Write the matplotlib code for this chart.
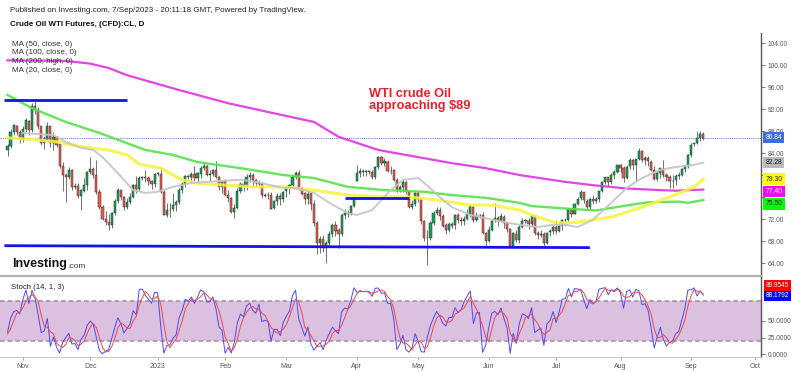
import numpy as np
import pandas as pd
import matplotlib
matplotlib.use("Agg")
import matplotlib.pyplot as plt
from matplotlib.transforms import blended_transform_factory

plt.rcParams['font.family'] = ['Liberation Sans', 'DejaVu Sans']

# ---------------- data ----------------
first_date = '2022-10-25'
last_date = '2023-09-07'

opens = [84.60, 85.30, 87.90, 89.00, 87.90, 86.60, 88.40, 89.90, 88.20, 92.60,
         91.80, 88.90, 85.80, 86.50, 88.90, 85.90, 86.90, 85.60, 81.60, 80.10,
         79.70, 80.90, 77.90, 78.10, 76.30, 77.20, 78.20, 80.60, 81.20, 80.00,
         76.90, 74.20, 72.00, 71.50, 71.00, 73.20, 75.40, 77.30, 76.10, 74.30,
         75.20, 76.10, 78.30, 77.50, 79.50, 79.60, 79.50, 78.90, 78.40, 80.30,
         80.30, 76.90, 72.80, 73.70, 73.80, 74.60, 75.10, 77.40, 78.40, 79.90,
         79.60, 80.20, 79.50, 80.30, 81.30, 81.60, 80.10, 80.20, 81.00, 79.70,
         77.90, 78.90, 76.40, 75.90, 73.40, 74.10, 77.10, 78.50, 78.10, 79.70,
         80.10, 79.10, 78.60, 78.50, 76.30, 76.50, 76.40, 74.00, 75.40, 76.30,
         75.70, 77.10, 77.70, 78.20, 79.70, 80.50, 77.60, 76.70, 75.70, 76.70,
         74.80, 71.30, 67.60, 68.40, 66.70, 67.60, 69.30, 70.90, 70.00, 69.30,
         72.80, 73.20, 73.00, 74.40, 79.00, 80.40, 80.70, 80.60, 80.70, 80.60,
         79.70, 81.50, 83.30, 82.20, 82.50, 80.80, 80.90, 79.20, 77.40, 77.90,
         78.80, 77.10, 74.30, 74.80, 76.80, 75.70, 71.70, 68.60, 68.60, 71.30,
         73.20, 73.70, 72.60, 70.90, 70.00, 71.10, 70.90, 72.80, 71.90, 71.70,
         72.00, 72.90, 74.30, 71.80, 72.70, 72.70, 69.50, 68.10, 70.10, 71.80,
         72.20, 71.70, 72.50, 71.30, 70.20, 67.10, 69.40, 68.30, 70.60, 71.80,
         71.60, 71.20, 72.50, 69.50, 69.20, 69.40, 67.70, 69.60, 69.90, 70.60,
         69.80, 70.70, 71.80, 71.80, 73.90, 73.00, 74.80, 75.80, 76.90, 75.40,
         74.20, 75.70, 75.40, 75.60, 77.10, 78.70, 79.60, 78.80, 80.10, 80.60,
         81.80, 81.40, 79.50, 81.60, 82.80, 81.90, 82.90, 84.40, 82.80, 83.20,
         82.50, 81.00, 79.40, 80.40, 81.20, 80.10, 79.60, 78.90, 79.10, 79.80,
         80.10, 81.20, 81.60, 83.60, 85.60, 85.80, 86.70, 87.50]

highs = [85.70, 88.40, 89.40, 89.20, 88.20, 89.00, 90.40, 90.10, 93.20, 93.70,
         92.40, 89.00, 87.20, 89.70, 89.00, 87.90, 87.20, 85.70, 82.40, 80.50,
         81.50, 81.20, 78.60, 78.60, 77.50, 79.50, 80.80, 83.30, 81.50, 82.70,
         77.50, 74.60, 73.50, 73.00, 73.40, 75.60, 77.60, 77.40, 76.30, 75.90,
         76.70, 78.50, 79.80, 79.90, 79.80, 80.90, 79.80, 79.10, 80.50, 80.60,
         81.50, 77.40, 74.90, 75.00, 76.70, 75.50, 77.70, 78.80, 80.00, 80.00,
         80.60, 81.70, 80.60, 81.60, 82.30, 81.80, 81.00, 81.20, 82.60, 79.90,
         79.10, 79.40, 77.30, 76.00, 74.70, 77.60, 78.70, 79.30, 80.30, 80.60,
         80.50, 79.30, 79.20, 78.80, 76.80, 77.00, 76.90, 75.50, 76.70, 76.80,
         77.20, 78.00, 78.50, 80.00, 80.80, 80.90, 77.90, 77.00, 77.30, 77.00,
         75.50, 71.70, 68.90, 69.10, 68.00, 69.90, 71.40, 71.70, 70.40, 73.10,
         73.80, 73.60, 74.60, 75.80, 81.80, 81.40, 81.20, 81.00, 80.90, 80.90,
         81.70, 83.50, 83.50, 83.10, 82.70, 81.70, 81.20, 79.50, 78.30, 79.30,
         78.90, 77.30, 75.50, 76.90, 76.90, 75.80, 71.80, 70.10, 71.70, 73.50,
         74.20, 74.30, 73.00, 71.30, 71.50, 71.50, 73.00, 73.20, 72.50, 72.60,
         73.80, 74.70, 74.50, 73.30, 73.00, 73.30, 69.70, 70.70, 72.00, 75.00,
         72.60, 73.20, 72.80, 71.50, 70.40, 69.60, 70.00, 70.90, 72.20, 72.00,
         72.20, 72.80, 72.70, 69.90, 70.00, 69.60, 69.70, 70.30, 70.90, 71.90,
         71.00, 72.00, 72.20, 74.00, 74.00, 75.00, 76.00, 77.30, 77.00, 75.60,
         75.90, 76.40, 76.00, 77.20, 78.90, 79.70, 79.70, 80.40, 81.00, 81.90,
         82.10, 81.70, 81.90, 83.20, 83.00, 83.00, 84.90, 84.60, 83.50, 83.50,
         82.70, 81.60, 80.70, 81.30, 82.80, 80.40, 80.00, 80.10, 80.30, 80.60,
         81.40, 81.80, 83.90, 85.90, 85.90, 88.10, 88.00, 87.80]

lows = [83.50, 84.90, 87.40, 87.30, 85.90, 86.10, 87.90, 87.40, 87.90, 91.20,
        88.50, 85.50, 84.80, 86.20, 85.20, 84.60, 85.20, 81.40, 77.20, 75.10,
        79.30, 77.40, 77.50, 75.80, 73.60, 77.00, 77.40, 80.20, 79.50, 76.60,
        73.80, 71.90, 70.90, 70.10, 70.50, 72.80, 74.90, 75.50, 73.70, 73.80,
        74.70, 75.80, 76.70, 77.20, 79.20, 78.70, 78.20, 77.50, 77.90, 79.90,
        76.70, 72.70, 72.50, 72.50, 73.50, 73.50, 74.70, 76.80, 77.90, 79.30,
        78.60, 78.90, 78.50, 79.50, 80.90, 79.90, 79.00, 79.80, 79.50, 77.40,
        76.80, 76.30, 75.10, 73.20, 72.30, 73.80, 76.70, 77.20, 77.40, 78.80,
        78.00, 77.80, 77.90, 75.80, 76.00, 75.70, 73.90, 73.80, 74.60, 74.60,
        75.20, 76.00, 76.60, 77.70, 79.30, 77.30, 76.40, 74.80, 74.70, 73.70,
        70.70, 65.70, 65.90, 66.10, 64.10, 67.00, 68.70, 69.00, 66.80, 69.00,
        72.10, 72.40, 72.70, 74.20, 78.90, 79.70, 79.90, 79.80, 80.30, 79.40,
        79.30, 81.20, 81.90, 81.60, 80.60, 80.20, 78.90, 76.90, 76.90, 77.00,
        76.60, 74.00, 73.80, 74.50, 75.10, 71.20, 68.10, 63.60, 68.30, 71.00,
        72.80, 71.80, 70.60, 69.40, 69.60, 70.40, 70.30, 71.40, 70.90, 71.00,
        71.80, 72.50, 71.50, 71.60, 72.30, 69.30, 67.10, 67.90, 69.90, 71.50,
        70.70, 71.50, 70.40, 69.60, 67.00, 66.90, 67.90, 67.60, 70.40, 71.30,
        70.30, 70.60, 69.20, 68.40, 68.80, 67.10, 67.50, 68.90, 69.40, 69.40,
        69.60, 70.10, 70.70, 71.50, 72.50, 72.90, 74.60, 75.50, 74.90, 73.80,
        73.90, 74.80, 74.90, 75.20, 76.90, 78.40, 78.00, 78.50, 79.30, 80.40,
        80.60, 78.80, 79.30, 81.20, 80.90, 79.00, 82.70, 82.50, 81.90, 81.60,
        80.70, 79.10, 78.90, 79.50, 79.70, 78.90, 77.60, 77.60, 78.20, 79.30,
        79.80, 80.60, 81.40, 83.40, 85.40, 85.70, 86.30, 86.50]

closes = [85.32, 87.91, 89.08, 87.90, 86.53, 88.37, 90.00, 88.17, 92.61, 91.79,
          88.91, 85.83, 86.47, 88.96, 85.87, 86.92, 85.59, 81.64, 80.08, 79.73,
          80.95, 77.94, 78.10, 76.28, 77.24, 78.20, 80.55, 81.22, 79.98, 76.93,
          74.25, 72.01, 71.46, 71.02, 73.17, 75.39, 77.28, 76.11, 74.29, 75.19,
          76.09, 78.29, 77.49, 79.56, 79.60, 79.53, 78.96, 78.40, 80.26, 80.30,
          76.93, 72.84, 73.67, 73.77, 74.63, 75.12, 77.41, 78.39, 79.86, 79.60,
          80.18, 79.48, 80.33, 81.31, 81.62, 80.13, 80.15, 81.01, 79.68, 77.90,
          78.87, 76.41, 75.88, 73.39, 74.11, 77.14, 78.47, 78.06, 79.72, 80.14,
          79.06, 78.59, 78.49, 76.34, 76.50, 76.36, 73.95, 75.39, 76.32, 75.68,
          77.05, 77.69, 78.16, 79.68, 80.46, 77.58, 76.66, 75.72, 76.68, 74.80,
          71.33, 67.61, 68.35, 66.74, 67.64, 69.33, 70.90, 69.96, 69.26, 72.81,
          73.20, 72.97, 74.37, 75.67, 80.42, 80.71, 80.61, 80.70, 80.60, 79.74,
          81.53, 83.26, 82.16, 82.52, 80.83, 80.86, 79.16, 77.37, 77.87, 78.76,
          77.07, 74.30, 74.76, 76.78, 75.66, 71.66, 68.60, 68.56, 71.34, 73.16,
          73.71, 72.56, 70.87, 70.04, 71.11, 70.86, 72.83, 71.86, 71.69, 71.99,
          72.91, 74.34, 71.83, 72.67, 72.70, 69.46, 68.09, 70.10, 71.74, 72.15,
          71.74, 72.53, 71.29, 70.17, 67.12, 69.42, 68.27, 70.62, 71.78, 71.60,
          71.19, 72.53, 69.51, 69.16, 69.37, 67.70, 69.56, 69.86, 70.64, 69.79,
          70.70, 71.79, 71.80, 73.86, 72.99, 74.83, 75.75, 76.89, 75.42, 74.15,
          75.75, 75.35, 75.63, 77.07, 78.74, 79.63, 78.78, 80.09, 80.58, 81.80,
          81.37, 79.49, 81.55, 82.82, 81.94, 82.92, 84.40, 82.82, 83.19, 82.51,
          80.99, 79.38, 80.39, 81.25, 80.12, 79.64, 78.89, 79.05, 79.83, 80.10,
          81.16, 81.63, 83.63, 85.55, 85.80, 86.69, 87.54, 86.84]

# bars before the visible window, used only to warm up the stochastic
warm_highs = [86.60, 88.40, 88.50, 92.90, 93.60, 91.40, 89.60, 89.50, 90.00,
              86.80, 85.90, 86.00, 86.60, 85.50, 85.90]
warm_lows = [83.50, 85.90, 86.90, 88.00, 90.60, 88.40, 86.40, 85.60, 85.50,
             84.60, 81.30, 82.20, 83.40, 82.10, 82.60]
warm_closes = [86.52, 87.76, 88.45, 92.64, 91.13, 89.35, 87.27, 89.11, 85.61,
               85.46, 82.82, 85.55, 84.51, 85.05, 84.58]

ma200_dates = ['2022-10-25', '2022-11-21', '2022-12-01', '2022-12-09', '2022-12-19', '2022-12-26',
               '2023-01-11', '2023-02-02', '2023-02-28', '2023-03-14', '2023-03-24', '2023-04-12',
               '2023-05-03', '2023-05-16', '2023-05-31', '2023-06-15', '2023-07-06', '2023-07-19',
               '2023-08-03', '2023-08-18', '2023-08-25', '2023-09-07']
ma200_vals = [100.9, 100.8, 100.3, 99.5, 98.2, 97.4, 95.5, 93.1, 90.9, 89.7, 87.0, 84.6,
              83.1, 82.2, 81.3, 80.05, 78.8, 78.2, 77.6, 77.3, 77.2, 77.4]

ma50_dates = ['2022-10-25', '2022-11-04', '2022-11-16', '2022-11-23', '2022-12-02', '2022-12-09',
              '2022-12-19', '2022-12-23', '2023-01-03', '2023-01-09', '2023-01-12', '2023-01-19',
              '2023-01-31', '2023-02-15', '2023-02-28', '2023-03-14', '2023-03-29', '2023-04-13',
              '2023-04-27', '2023-05-09', '2023-05-24', '2023-06-02', '2023-06-15', '2023-06-21',
              '2023-06-30', '2023-07-06', '2023-07-12', '2023-07-27', '2023-08-10', '2023-08-23',
              '2023-09-04', '2023-09-07']
ma50_vals = [86.8, 86.5, 86.1, 85.5, 84.9, 84.6, 83.7, 82.05, 81.3, 80.05, 79.15, 78.55,
             78.25, 77.9, 77.9, 77.3, 76.4, 76.1, 76.0, 75.5, 74.6, 74.6, 73.7, 72.8,
             71.5, 71.3, 71.5, 72.4, 74.2, 76.05, 77.85, 79.3]

ma100_dates = ['2022-10-25', '2022-11-04', '2022-11-21', '2022-12-06', '2022-12-27', '2023-01-09',
               '2023-01-19', '2023-02-08', '2023-02-28', '2023-03-14', '2023-03-29', '2023-04-13',
               '2023-05-03', '2023-05-16', '2023-05-31', '2023-06-15', '2023-06-21', '2023-07-05',
               '2023-07-20', '2023-08-04', '2023-08-14', '2023-08-28', '2023-08-31', '2023-09-07']
ma100_vals = [94.6, 92.2, 89.7, 87.7, 84.6, 83.7, 82.4, 81.3, 80.05, 79.5, 77.9, 77.35,
              77.0, 76.4, 75.9, 75.0, 74.4, 74.0, 73.6, 74.6, 75.1, 75.2, 75.0, 75.5]

ma20_dates = ['2022-11-01', '2022-11-15', '2022-11-21', '2022-11-28', '2022-12-02', '2022-12-07',
              '2022-12-14', '2022-12-21', '2022-12-27', '2023-01-02', '2023-01-09', '2023-01-17',
              '2023-01-24', '2023-02-08', '2023-02-15', '2023-02-28', '2023-03-06', '2023-03-14',
              '2023-03-21', '2023-03-29', '2023-04-03', '2023-04-10', '2023-04-18', '2023-04-24',
              '2023-05-01', '2023-05-03', '2023-05-10', '2023-05-16', '2023-05-24', '2023-05-31',
              '2023-06-08', '2023-06-15', '2023-06-23', '2023-06-30', '2023-07-06', '2023-07-12',
              '2023-07-19', '2023-07-27', '2023-08-03', '2023-08-10', '2023-08-18', '2023-08-25',
              '2023-09-04', '2023-09-07']
ma20_vals = [87.7, 87.3, 86.05, 85.0, 84.6, 83.3, 80.4, 77.3, 76.8, 77.0, 77.9, 78.6,
             78.8, 79.2, 78.8, 77.7, 77.7, 76.8, 75.0, 73.1, 72.8, 73.7, 77.3, 79.15,
             79.5, 78.6, 76.05, 74.2, 72.8, 72.2, 71.5, 71.0, 70.6, 71.0, 71.0, 70.6,
             71.9, 75.0, 77.7, 79.5, 81.0, 81.5, 81.9, 82.28]

# drawn trend lines: (start date, end date, start price, end price)
trend_lines = [('2022-10-24', '2022-12-19', 93.7, 93.7),
               ('2022-10-24', '2023-07-18', 67.2, 66.85),
               ('2023-03-28', '2023-04-26', 75.8, 75.8)]

month_dates = ['2022-11-01', '2022-12-01', '2023-01-02', '2023-02-01', '2023-03-01', '2023-04-03',
               '2023-05-01', '2023-06-01', '2023-07-03', '2023-08-01', '2023-09-01', '2023-10-02']
month_labels = ['Nov', 'Dec', '2023', 'Feb', 'Mar', 'Apr', 'May', 'Jun', 'Jul', 'Aug', 'Sep', 'Oct']

price_ticks = [64, 68, 72, 76, 80, 84, 88, 92, 96, 100, 104]
hidden_price_labels = [76, 80]          # covered by the value boxes in the original
stoch_ticks = [0, 25, 50]
stoch_k_label = '88.1792'
stoch_d_label = '89.9545'


def bar_index(d):
    return int(np.busday_count(np.datetime64(first_date), np.datetime64(d)))


def bar_indices(ds):
    return np.array([bar_index(d) for d in ds])


# ---------------- figure ----------------
W, H = 800, 372
fig = plt.figure(figsize=(W / 100, H / 100), dpi=100)
fig.patch.set_facecolor('white')


def fx(px):
    return px / W


def fy(py):
    return 1 - py / H


AX_RIGHT = 761
ax = fig.add_axes([0, fy(276), fx(AX_RIGHT), fy(33) - fy(276)])
axs = fig.add_axes([0, fy(357), fx(AX_RIGHT), fy(277) - fy(357)])

bar0_px, bar_w_px = 7.5, 3.065
xlim = ((0 - bar0_px) / bar_w_px, (AX_RIGHT - bar0_px) / bar_w_px)

o = np.array(opens)
h = np.array(highs)
l = np.array(lows)
c = np.array(closes)
xi = np.arange(len(c))
up = c >= o

GREEN = '#15a35a'
RED = '#ef5a4f'
ax.vlines(xi, l, h, color='#5a5a5a', lw=0.6, zorder=2)
ax.bar(xi, np.maximum(np.abs(c - o), 0.07), bottom=np.minimum(o, c), width=0.7,
       color=np.where(up, GREEN, RED), edgecolor='#2b2b2b', linewidth=0.35, zorder=3)

# moving averages
ax.plot(bar_indices(ma200_dates), ma200_vals, color='#e23be6', lw=1.6, alpha=0.95, zorder=4)
ax.plot(bar_indices(ma100_dates), ma100_vals, color='#55e24a', lw=1.7, alpha=0.9, zorder=4)
ax.plot(bar_indices(ma50_dates), ma50_vals, color='#f7f33e', lw=2.3, alpha=0.85, zorder=4)
ax.plot(bar_indices(ma20_dates), ma20_vals, color='#c4c4c4', lw=1.4, alpha=0.9, zorder=4)

# trend lines
for d0, d1, p0, p1 in trend_lines:
    ax.plot([bar_index(d0), bar_index(d1)], [p0, p1], color='#1414e6', lw=2.0,
            solid_capstyle='butt', zorder=5)

# last price dotted line
ax.axhline(closes[-1], color='#4a6fe0', lw=0.7, ls=(0, (1, 1.2)), zorder=1)

ax.set_xlim(*xlim)
ax.set_ylim(61.69, 105.87)
for s in ['left', 'top']:
    ax.spines[s].set_visible(False)
ax.spines['right'].set_color('#555555')
ax.spines['right'].set_linewidth(1.0)
ax.spines['bottom'].set_color('#b3b3b3')
ax.spines['bottom'].set_linewidth(1.6)
ax.set_xticks([])
ax.yaxis.tick_right()
ax.set_yticks(price_ticks)
ax.set_yticklabels(['' if v in hidden_price_labels else f'{v:.2f}' for v in price_ticks])
ax.tick_params(axis='y', length=3, width=0.6, color='#666666', labelsize=4.8,
               labelcolor='#555555', pad=1.5)
ax.patch.set_alpha(0)

# right-axis value boxes
trans = blended_transform_factory(ax.transAxes, ax.transData)
boxes = [(closes[-1], '#3c6ee0', 'white'),
         (ma20_vals[-1], '#b9b9b9', '#222222'),
         (ma50_vals[-1], '#ffff00', '#222222'),
         (ma200_vals[-1], '#ff00ff', 'white'),
         (ma100_vals[-1], '#00ff00', '#222222')]
prev = None
for val, bg, fg in boxes:
    pos = val if prev is None else min(val, prev - 2.25)
    prev = pos
    ax.text(1.006, pos, f'{val:.2f}', transform=trans, ha='left', va='center',
            fontsize=4.9, color=fg, clip_on=False, zorder=10,
            bbox=dict(boxstyle='square,pad=0.32', fc=bg, ec='none'))

# annotation
ax.text(bar_index('2023-04-07'), 95.9, 'WTI crude Oil\napproaching $89', color='#e8202a',
        fontsize=9.2, fontweight='bold', ha='left', va='top', linespacing=1.05, zorder=6)

# ---------------- stochastic ----------------
H_all = pd.Series(warm_highs + highs)
L_all = pd.Series(warm_lows + lows)
C_all = pd.Series(warm_closes + closes)
hh = H_all.rolling(14, min_periods=1).max()
ll = L_all.rolling(14, min_periods=1).min()
k = 100 * (C_all - ll) / (hh - ll)
d = k.rolling(3, min_periods=1).mean()
nw = len(warm_closes)
k = k.values[nw:]
d = d.values[nw:]

axs.axhspan(20, 80, color='#dcc0e0', zorder=0, lw=0)
axs.axhline(80, color='#a08aa5', lw=1.1, ls=(0, (3, 2)), zorder=1)
axs.axhline(20, color='#a08aa5', lw=1.1, ls=(0, (3, 2)), zorder=1)
axs.plot(xi, k, color='#4a4af5', lw=0.7, zorder=3)
axs.plot(xi, d, color='#f04848', lw=0.7, zorder=3)
axs.set_xlim(*xlim)
axs.set_ylim(-4.0, 115.0)
for s in ['left', 'top']:
    axs.spines[s].set_visible(False)
axs.spines['right'].set_color('#555555')
axs.spines['right'].set_linewidth(1.0)
axs.spines['bottom'].set_color('#cccccc')
axs.spines['bottom'].set_linewidth(0.8)
axs.yaxis.tick_right()
axs.set_yticks(stoch_ticks)
axs.set_yticklabels([f'{v:.4f}' for v in stoch_ticks])
axs.tick_params(axis='y', length=3, width=0.6, color='#666666', labelsize=4.8,
                labelcolor='#555555', pad=1.5)
axs.set_xticks(bar_indices(month_dates))
axs.set_xticklabels(month_labels)
axs.tick_params(axis='x', length=2, width=0.6, color='#999999', labelsize=5.0,
                labelcolor='#555555', pad=2)
axs.patch.set_alpha(0)
axs.text(0.0145, 0.87, 'Stoch (14, 1, 3)', transform=axs.transAxes, fontsize=5.6,
         color='#222222', va='center', ha='left')

strans = blended_transform_factory(axs.transAxes, axs.transData)
k_last = float(k[-1])
axs.text(1.006, k_last, stoch_k_label, transform=strans, ha='left', va='center',
         fontsize=4.7, color='white', clip_on=False, zorder=10,
         bbox=dict(boxstyle='square,pad=0.3', fc='#0000ff', ec='none'))
axs.text(1.006, k_last + 14.5, stoch_d_label, transform=strans, ha='left', va='center',
         fontsize=4.7, color='white', clip_on=False, zorder=10,
         bbox=dict(boxstyle='square,pad=0.3', fc='#ff0000', ec='none'))

# ---------------- header texts ----------------
fig.text(fx(10), fy(11), 'Published on Investing.com, 7/Sep/2023 - 20:11:18 GMT, Powered by TradingView.',
         fontsize=5.75, color='#222222', va='center', ha='left')
fig.text(fx(9.5), fy(24.5), 'Crude Oil WTI Futures, (CFD):CL, D', fontsize=5.75,
         fontweight='bold', color='#111111', va='center', ha='left')
for i, t in enumerate(['MA (50, close, 0)', 'MA (100, close, 0)', 'MA (200, high, 0)', 'MA (20, close, 0)']):
    fig.text(fx(11.5), fy(44.3 + 8.6 * i), t, fontsize=5.8, color='#333333', va='center', ha='left',
             zorder=10)

fig.text(fx(12.5), fy(264), 'Investing', fontsize=9, fontweight='bold', color='#111111',
         va='center', ha='left')
fig.text(fx(67), fy(266), '.com', fontsize=6, color='#333333', va='center', ha='left')

fig.savefig('out.png', dpi=100, facecolor='white')
